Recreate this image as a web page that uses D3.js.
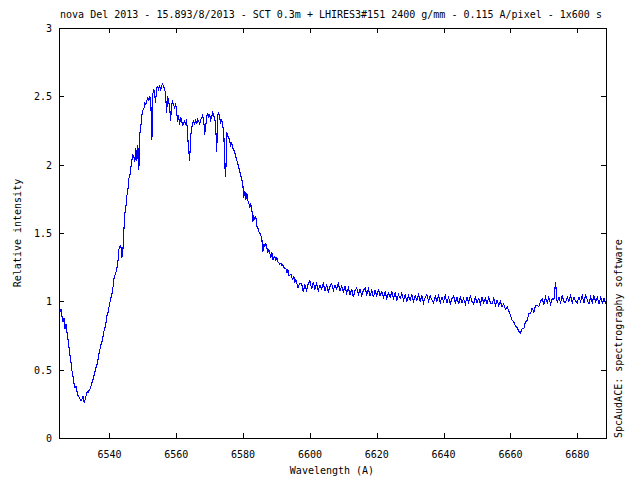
<!DOCTYPE html>
<html><head><meta charset="utf-8">
<script src="https://cdn.jsdelivr.net/npm/d3@7"></script>
<style>body{margin:0;background:#fff}svg{display:block}text{font-family:"DejaVu Sans Mono",monospace;font-size:10px;fill:#000}</style>
</head><body>
<svg id="c" width="640" height="480"></svg>
<script>
const title = "nova Del 2013 - 15.893/8/2013 - SCT 0.3m + LHIRES3#151 2400 g/mm - 0.115 A/pixel - 1x600 s";
const xLabel = "Wavelength (A)";
const yLabel = "Relative intensity";
const sideLabel = "SpcAudACE: spectrography software";
const xTicks = [6540,6560,6580,6600,6620,6640,6660,6680];
const yTicks = [0,0.5,1,1.5,2,2.5,3];
const yTickLabels = ["0","0.5","1","1.5","2","2.5","3"];
const xDomain = [6524.9, 6688.6];
const yDomain = [0, 3];

// spectrum: blue wing + H-alpha emission region
const wlA = [6524.9,6525.2,6525.5,6525.8,6526.1,6526.4,6526.7,6527.0,6527.3,6527.6,6527.9,6528.2,6528.5,6528.8,6529.1,6529.4,6529.7,6530.0,6530.3,6530.6,6530.9,6531.2,6531.5,6531.8,6532.1,6532.4,6532.7,6533.0,6533.3,6533.6,6533.9,6534.2,6534.5,6534.8,6535.1,6535.4,6535.6,6535.9,6536.2,6536.5,6536.8,6537.1,6537.4,6537.7,6538.0,6538.3,6538.6,6538.9,6539.2,6539.5,6539.8,6540.1,6540.4,6540.7,6541.0,6541.3,6541.6,6541.9,6542.2,6542.5,6542.8,6543.1,6543.4,6543.7,6544.0,6544.3,6544.6,6544.9,6545.2,6545.5,6545.8,6546.1,6546.4,6546.7,6547.0,6547.3,6547.6,6547.9,6548.2,6548.5,6548.8,6549.1,6549.4,6549.7,6550.0,6550.3,6550.6,6550.9,6551.2,6551.5,6551.8,6552.1,6552.4,6552.7,6553.0,6553.3,6553.6,6553.8,6554.1,6554.4,6554.7,6555.0,6555.3,6555.6,6555.9,6556.2,6556.5,6556.8,6557.1,6557.4,6557.7,6558.0,6558.3,6558.6,6558.9,6559.2,6559.5,6559.8,6560.1,6560.4,6560.7,6561.0,6561.3,6561.6,6561.9,6562.2,6562.5,6562.8,6563.1,6563.4,6563.7,6564.0,6564.3,6564.6,6564.9,6565.2,6565.5,6565.8,6566.1,6566.4,6566.7,6567.0,6567.3,6567.6,6567.9,6568.2,6568.5,6568.8,6569.1,6569.4,6569.7,6570.0,6570.3,6570.6,6570.9,6571.2,6571.5,6571.8,6572.1,6572.4,6572.7,6573.0,6573.3,6573.6,6573.9,6574.2,6574.5,6574.8,6575.1,6575.4,6575.7,6576.0,6576.3,6576.6,6576.9,6577.2,6577.5,6577.8,6578.1,6578.4,6578.7,6579.0,6579.3,6579.6,6579.9,6580.2,6580.5,6580.8,6581.1,6581.4,6581.7,6582.0,6582.3,6582.6,6582.9,6583.2,6583.5,6583.8,6584.1,6584.4,6584.7,6585.0,6585.3,6585.6,6585.9,6586.2,6586.5,6586.8,6587.1,6587.4,6587.7,6588.0,6588.3,6588.6,6588.9,6589.2,6589.5,6589.8,6590.1,6590.4,6590.7,6591.0,6591.3,6591.6,6591.9,6592.2,6592.5,6592.8,6593.1,6593.4,6593.7,6594.0,6594.3,6594.6,6594.9,6595.2,6595.5,6595.8,6596.1,6596.4,6596.7,6597.0];
const inA = [0.96,0.92,0.94,0.89,0.85,0.88,0.80,0.83,0.77,0.72,0.66,0.60,0.55,0.49,0.45,0.40,0.37,0.38,0.34,0.31,0.30,0.285,0.27,0.285,0.31,0.26,0.28,0.31,0.34,0.33,0.35,0.36,0.38,0.41,0.43,0.46,0.48,0.51,0.53,0.56,0.61,0.64,0.68,0.70,0.73,0.78,0.80,0.83,0.89,0.91,0.95,0.99,1.02,1.05,1.09,1.16,1.19,1.21,1.24,1.28,1.38,1.40,1.41,1.32,1.36,1.51,1.64,1.69,1.77,1.81,1.90,1.92,1.98,2.03,2.07,2.06,2.02,2.12,2.03,2.14,1.96,2.23,2.28,2.36,2.40,2.41,2.45,2.44,2.47,2.49,2.47,2.50,2.44,2.18,2.52,2.55,2.50,2.45,2.56,2.57,2.55,2.58,2.54,2.58,2.59,2.57,2.56,2.51,2.38,2.50,2.46,2.43,2.32,2.44,2.46,2.44,2.41,2.45,2.39,2.31,2.36,2.29,2.35,2.32,2.29,2.30,2.32,2.30,2.33,2.21,2.11,2.03,2.20,2.27,2.30,2.32,2.29,2.33,2.30,2.33,2.32,2.30,2.33,2.34,2.36,2.33,2.22,2.28,2.35,2.38,2.34,2.37,2.33,2.35,2.38,2.36,2.34,2.28,2.09,2.36,2.38,2.34,2.31,2.33,2.28,2.25,2.00,1.91,2.24,2.21,2.20,2.17,2.14,2.16,2.12,2.11,2.09,2.06,2.03,2.01,1.98,1.95,1.92,1.89,1.86,1.76,1.81,1.74,1.79,1.74,1.72,1.69,1.71,1.68,1.58,1.62,1.60,1.62,1.55,1.54,1.51,1.50,1.48,1.46,1.36,1.42,1.40,1.42,1.39,1.36,1.38,1.35,1.32,1.36,1.30,1.32,1.33,1.30,1.32,1.29,1.28,1.27,1.28,1.26,1.27,1.25,1.24,1.24,1.21,1.23,1.19,1.19,1.20,1.17,1.16,1.18,1.14,1.16,1.13,1.10,1.12,1.13];

// red continuum + absorption near 6663
const wlB = [6597.5,6598.0,6598.5,6599.0,6599.5,6600.0,6600.5,6601.0,6601.5,6602.0,6602.5,6603.0,6603.5,6604.0,6604.5,6605.0,6605.5,6606.0,6606.5,6607.0,6607.5,6608.0,6608.5,6609.0,6609.5,6610.0,6610.5,6611.0,6611.5,6612.0,6612.5,6613.0,6613.5,6614.0,6614.5,6615.0,6615.5,6616.0,6616.5,6617.0,6617.5,6618.0,6618.5,6619.0,6619.5,6620.0,6620.5,6621.0,6621.5,6622.0,6622.5,6623.0,6623.5,6624.0,6624.5,6625.0,6625.5,6626.0,6626.5,6627.0,6627.5,6628.0,6628.5,6629.0,6629.5,6630.0,6630.5,6631.0,6631.5,6632.0,6632.5,6633.0,6633.5,6634.0,6634.5,6635.0,6635.5,6636.0,6636.5,6637.0,6637.5,6638.0,6638.5,6639.0,6639.5,6640.0,6640.5,6641.0,6641.5,6642.0,6642.5,6643.0,6643.5,6644.0,6644.5,6645.0,6645.5,6646.0,6646.5,6647.0,6647.5,6648.0,6648.5,6649.0,6649.5,6650.0,6650.5,6651.0,6651.5,6652.0,6652.5,6653.0,6653.5,6654.0,6654.5,6655.0,6655.5,6656.0,6656.5,6657.0,6657.5,6658.0,6658.5,6659.0,6659.5,6660.0,6660.5,6661.0,6661.5,6662.0,6662.5,6663.0,6663.5,6664.0,6664.5,6665.0,6665.5,6666.0,6666.5,6667.0,6667.5,6668.0,6668.5,6669.0,6669.5,6670.0,6670.5,6671.0,6671.5,6672.0,6672.5,6673.0,6673.5,6674.0,6674.5,6675.0,6675.5,6676.0,6676.5,6677.0,6677.5,6678.0,6678.5,6679.0,6679.5,6680.0,6680.5,6681.0,6681.5,6682.0,6682.5,6683.0,6683.5,6684.0,6684.5,6685.0,6685.5,6686.0,6686.5,6687.0,6687.5,6688.0,6688.5];
const inB = [1.13,1.07,1.12,1.08,1.13,1.15,1.09,1.14,1.09,1.13,1.08,1.12,1.09,1.13,1.08,1.12,1.07,1.11,1.13,1.08,1.12,1.09,1.13,1.08,1.11,1.07,1.11,1.06,1.10,1.05,1.09,1.03,1.08,1.10,1.05,1.09,1.04,1.08,1.10,1.05,1.09,1.04,1.08,1.03,1.08,1.04,1.09,1.04,1.07,1.03,1.07,1.02,1.06,1.03,1.07,1.02,1.06,1.01,1.05,1.02,1.06,1.01,1.05,1.00,1.04,1.01,1.05,1.00,1.04,1.01,1.05,1.00,1.04,0.99,1.03,1.05,1.00,1.04,1.01,0.99,1.04,1.00,1.04,0.99,1.03,1.00,1.04,0.99,1.03,0.98,1.02,1.04,0.99,1.03,0.98,1.03,0.99,1.02,0.98,1.03,0.99,1.04,1.00,0.98,1.03,0.99,1.02,0.98,1.03,0.99,1.02,0.98,1.03,0.99,0.98,1.02,0.97,1.01,0.97,1.00,0.96,0.98,0.94,0.96,0.93,0.90,0.86,0.85,0.82,0.81,0.78,0.77,0.80,0.80,0.85,0.86,0.91,0.91,0.95,0.92,0.97,0.97,0.96,1.00,1.02,0.98,1.03,0.99,1.03,0.98,1.02,1.01,1.14,0.99,1.03,0.99,1.04,1.00,0.99,1.03,1.00,1.04,0.99,1.03,1.00,0.99,1.03,1.00,1.04,0.99,1.05,1.01,0.98,1.03,0.99,1.04,1.00,1.03,0.98,1.03,0.99,1.02,0.98];

const wavelengths = wlA.concat(wlB);
const intensity = inA.concat(inB);

const svg = d3.select("#c");
const L = 59, R = 606, T = 28, B = 438;
const x = d3.scaleLinear().domain(xDomain).range([L, R]);
const y = d3.scaleLinear().domain(yDomain).range([B, T]);
const tk = 5;

const axes = svg.append("g").attr("shape-rendering","crispEdges").attr("stroke","#000").attr("stroke-width",1);
xTicks.forEach(v => {
  const px = Math.round(x(v)) + 0.5;
  axes.append("line").attr("x1",px).attr("x2",px).attr("y1",B).attr("y2",B-tk);
  axes.append("line").attr("x1",px).attr("x2",px).attr("y1",T).attr("y2",T+tk);
});
yTicks.forEach(v => {
  const py = Math.round(y(v)) + 0.5;
  axes.append("line").attr("x1",L).attr("x2",L+tk).attr("y1",py).attr("y2",py);
  axes.append("line").attr("x1",R).attr("x2",R-tk).attr("y1",py).attr("y2",py);
});

const line = d3.line().x((d,i)=>x(wavelengths[i])).y(d=>y(d));
svg.append("path").datum(intensity).attr("d", line)
  .attr("fill","none").attr("stroke","#0000ff").attr("stroke-width",1.1)
  .attr("shape-rendering","crispEdges");

svg.append("rect").attr("x",L+0.5).attr("y",T+0.5).attr("width",R-L).attr("height",B-T)
  .attr("fill","none").attr("stroke","#000").attr("stroke-width",1).attr("shape-rendering","crispEdges");

svg.selectAll(".xl").data(xTicks).enter().append("text")
  .attr("x", d=>x(d)).attr("y", 458).attr("text-anchor","middle").text(d=>d);
svg.selectAll(".yl").data(yTicks).enter().append("text")
  .attr("x", 52).attr("y", d=>y(d)+4).attr("text-anchor","end").text((d,i)=>yTickLabels[i]);

svg.append("text").attr("x",331).attr("y",18).attr("text-anchor","middle").text(title);
svg.append("text").attr("x",332).attr("y",474).attr("text-anchor","middle").text(xLabel);
svg.append("text").attr("transform","translate(21,233) rotate(-90)").attr("text-anchor","middle").text(yLabel);
svg.append("text").attr("transform","translate(622,438) rotate(-90)").attr("text-anchor","start").text(sideLabel);
</script>
</body></html>
